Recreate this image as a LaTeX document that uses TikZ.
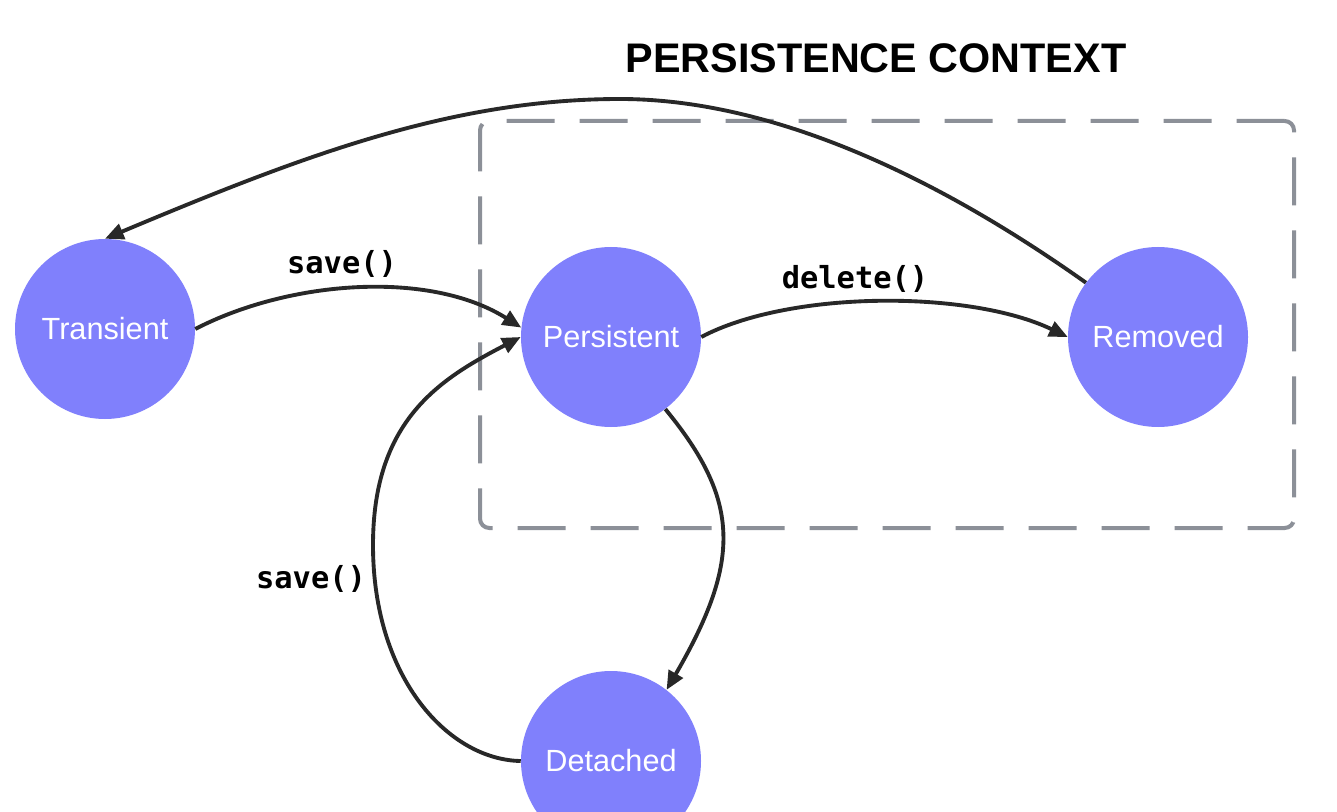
\documentclass[tikz,border=0pt]{standalone}
\usepackage{fontspec}
\setmainfont{Liberation Sans}
\newfontfamily\codefont{DejaVu Sans Mono}
\usetikzlibrary{arrows.meta}
\definecolor{statefill}{RGB}{128,128,252}
\definecolor{edgecol}{RGB}{40,40,40}
\definecolor{boxgray}{RGB}{140,144,152}
\tikzset{
  statenode/.style={circle, fill=statefill, minimum size=135pt, inner sep=0pt, text=white, font=\fontsize{23}{26}\selectfont},
  trans/.style={draw=edgecol, line width=2.9pt, -{Triangle[length=14pt,width=12pt]}},
  lbl/.style={font=\codefont\bfseries\fontsize{22.8}{24}\selectfont, text=black, inner sep=0pt},
  ctxbox/.style={draw=boxgray, line width=3pt, dash pattern=on 36pt off 18.75pt, rounded corners=7pt, minimum width=610.5pt, minimum height=305.25pt, inner sep=0pt},
  titletext/.style={font=\bfseries\fontsize{31}{34}\selectfont, inner sep=0pt}
}
\begin{document}
\begin{tikzpicture}[x=0.75pt,y=-0.75pt]
\useasboundingbox (0,0) rectangle (1337,812);
\fill[white] (0,0) rectangle (1337,812);
\clip (0,0) rectangle (1337,812);
% context box and title
\node[ctxbox] (ctx) at (887,324.5) {};
\node[titletext] (title) at (876,58) {PERSISTENCE CONTEXT};
% states
\node[statenode] (T) at (105,329) {Transient};
\node[statenode] (P) at (611,337) {Persistent};
\node[statenode] (R) at (1158,337) {Removed};
\node[statenode] (D) at (611,761) {Detached};
% helper coordinates
\coordinate (peak) at (620,99);
\coordinate (loopleft) at (373,545);
% transitions
\draw[trans] (R.143) .. controls (920,165) and (760,99) .. (peak) .. controls (450,99) and (300,157) .. (T.north);
\draw[trans] (T.east) .. controls (290,280) and (430,270) .. (P.174);
\draw[trans] (P.east) .. controls (790,290) and (970,290) .. (R.west);
\draw[trans] (P.-53) .. controls (740,500) and (742,560) .. (D.52);
\draw[trans] (D.west) .. controls (450,760) and (373,680) .. (loopleft) .. controls (373,420) and (440,379) .. (P.west);
% labels
\node[lbl] (l1) at (342,264) {save()};
\node[lbl] (l2) at (855,279) {delete()};
\node[lbl] (l3) at (311,579) {save()};
\end{tikzpicture}
\end{document}
